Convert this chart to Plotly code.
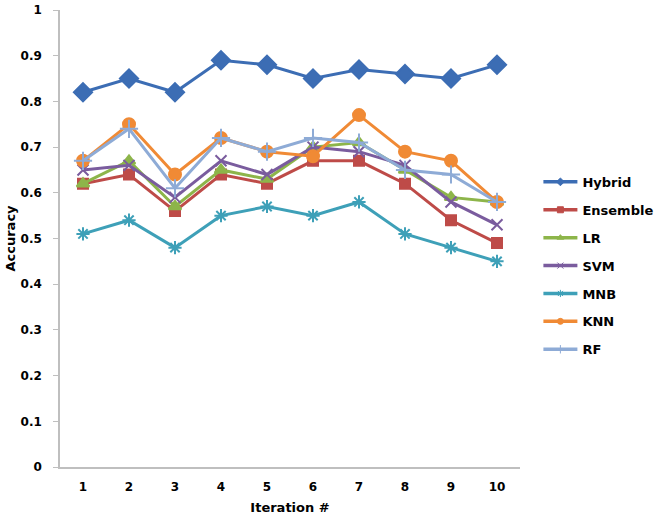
import plotly.graph_objects as go

iterations = [1, 2, 3, 4, 5, 6, 7, 8, 9, 10]
hybrid = [0.82, 0.85, 0.82, 0.89, 0.88, 0.85, 0.87, 0.86, 0.85, 0.88]
ensemble = [0.62, 0.64, 0.56, 0.64, 0.62, 0.67, 0.67, 0.62, 0.54, 0.49]
lr = [0.62, 0.67, 0.57, 0.65, 0.63, 0.70, 0.71, 0.65, 0.59, 0.58]
svm = [0.65, 0.66, 0.59, 0.67, 0.64, 0.70, 0.69, 0.66, 0.58, 0.53]
mnb = [0.51, 0.54, 0.48, 0.55, 0.57, 0.55, 0.58, 0.51, 0.48, 0.45]
knn = [0.67, 0.75, 0.64, 0.72, 0.69, 0.68, 0.77, 0.69, 0.67, 0.58]
rf = [0.67, 0.74, 0.61, 0.72, 0.69, 0.72, 0.71, 0.65, 0.64, 0.58]
y_ticks = [0, 0.1, 0.2, 0.3, 0.4, 0.5, 0.6, 0.7, 0.8, 0.9, 1]

series = [
    ("Hybrid", hybrid, "#3C6DB4", "diamond", 14),
    ("Ensemble", ensemble, "#BE4B48", "square", 10),
    ("LR", lr, "#8DB54A", "triangle-up", 11),
    ("SVM", svm, "#7A5C9E", "x-thin", 11),
    ("MNB", mnb, "#3EA0B8", "asterisk", 11),
    ("KNN", knn, "#F08A35", "circle", 12),
    ("RF", rf, "#8EABD6", "cross-thin", 13),
]

fig = go.Figure()
for name, vals, color, sym, size in series:
    fig.add_trace(go.Scatter(
        x=iterations, y=vals, name=name, mode="lines+markers",
        showlegend=False,
        line=dict(color=color, width=3),
        marker=dict(symbol=sym, size=size, color=color,
                    line=dict(color=color, width=2)),
    ))
# legend entries with small markers, as in the original chart
for name, vals, color, sym, size in series:
    fig.add_trace(go.Scatter(
        x=[None], y=[None], name="<b>" + name + "</b>", mode="lines+markers",
        legendgroup=name, showlegend=True, hoverinfo="skip",
        line=dict(color=color, width=3.5),
        marker=dict(symbol=sym, size=6, color=color,
                    line=dict(color=color, width=1)),
    ))

font_family = "DejaVu Sans, Verdana, sans-serif"
fig.update_layout(
    width=661, height=520,
    margin=dict(l=60, r=141, t=10, b=53, autoexpand=False),
    paper_bgcolor="white", plot_bgcolor="white",
    font=dict(family=font_family, size=13, color="black"),
    showlegend=True,
    legend=dict(x=1.04, y=0.44, xanchor="left", yanchor="middle",
                font=dict(size=13, family=font_family),
                tracegroupgap=8, itemwidth=34, bgcolor="rgba(0,0,0,0)"),
    xaxis=dict(range=[0.5, 10.5], tickvals=iterations,
               ticktext=["<b>%d</b>" % i for i in iterations],
               showgrid=False, zeroline=False, showline=True,
               linecolor="#BFBFBF", linewidth=1.5, mirror=False, ticks="",
               ticklabelstandoff=8, automargin=False,
               tickfont=dict(size=12, family=font_family),
               title=dict(text="<b>Iteration #</b>", standoff=10,
                          font=dict(size=13, family=font_family))),
    yaxis=dict(range=[0, 1], tickvals=y_ticks,
               ticktext=[("<b>%g</b>" % v) for v in y_ticks],
               showgrid=False, zeroline=False, showline=True,
               linecolor="#BFBFBF", linewidth=1.5, ticks="outside",
               ticklen=5, tickcolor="#BFBFBF",
               ticklabelstandoff=9, automargin=False,
               tickfont=dict(size=12, family=font_family),
               title=dict(text="<b>Accuracy</b>", standoff=2,
                          font=dict(size=13, family=font_family))),
)

fig.write_html("out.html",
               config={"displayModeBar": False},
               post_script="document.body.style.margin='0';")
